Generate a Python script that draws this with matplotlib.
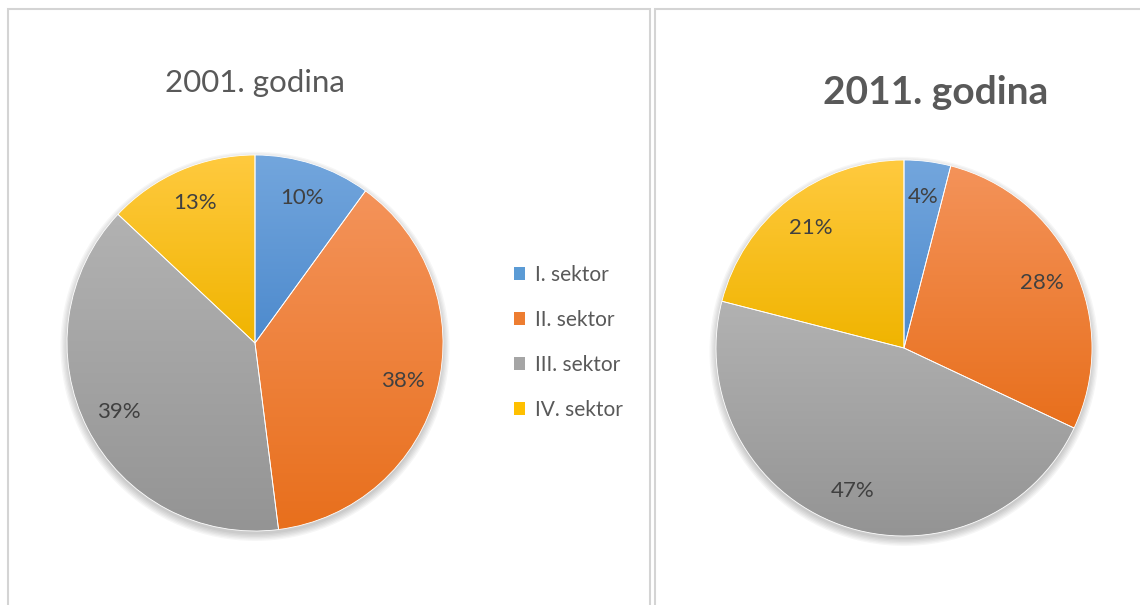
import matplotlib.pyplot as plt
import numpy as np
from matplotlib.colors import LinearSegmentedColormap
from matplotlib.patches import Rectangle, Circle, Patch

sectors = ["I. sektor", "II. sektor", "III. sektor", "IV. sektor"]
share_2001 = [10, 38, 39, 13]
share_2011 = [4, 28, 47, 21]
titles = ["2001. godina", "2011. godina"]

# (top colour, bottom colour) per sector, Office-like gradient
grad_colors = [("#73a6dd", "#4d8acd"), ("#f4935a", "#e86f1c"),
               ("#b2b2b2", "#949494"), ("#ffca3f", "#f0b400")]
legend_colors = ["#5b9bd5", "#ed7d31", "#a5a5a5", "#ffc000"]

plt.rcParams['font.family'] = ['Lato', 'DejaVu Sans']
TXT = "#404040"
W, H = 1140, 605

fig = plt.figure(figsize=(W / 100, H / 100), dpi=100)
fig.patch.set_facecolor("white")

# panel borders
for x0, x1 in [(8, 650), (655, 1150)]:
    fig.patches.append(Rectangle((x0 / W, -0.05), (x1 - x0) / W, 1.05 - 9 / H,
                                 transform=fig.transFigure, fill=False,
                                 edgecolor="#d4d4d4", linewidth=1.5))


def draw_pie(cx, cy, r, values):
    ax = fig.add_axes([(cx - r) / W, 1 - (cy + r) / H, 2 * r / W, 2 * r / H])
    ax.axis("off")
    # soft shadow
    for k in range(6):
        ax.add_patch(Circle((0, -0.018), 1.0 + 0.007 * k, color="black",
                            alpha=0.035, lw=0, zorder=0, clip_on=False))
    wedges, texts, autotexts = ax.pie(
        values, startangle=90, counterclock=False, radius=1.0,
        autopct="%.0f%%", pctdistance=0.81,
        wedgeprops=dict(linewidth=0.6, edgecolor="white"),
        textprops=dict(color=TXT, fontsize=16))
    for w, (top, bot) in zip(wedges, grad_colors):
        w.set_facecolor("none")
        w.set_zorder(3)
        ext = w.get_path().get_extents()
        cmap = LinearSegmentedColormap.from_list("g", [bot, top])
        grad = np.linspace(0, 1, 256).reshape(-1, 1)
        im = ax.imshow(grad, cmap=cmap, origin="lower", aspect="auto",
                       extent=[ext.x0, ext.x1, ext.y0, ext.y1], zorder=1)
        im.set_clip_path(w)
    for t in autotexts:
        t.set_zorder(5)
    ax.set_xlim(-1, 1)
    ax.set_ylim(-1, 1)
    ax.set_aspect("equal")
    return ax


draw_pie(255, 343, 188, share_2001)
draw_pie(904, 348, 188, share_2011)

fig.text(255 / W, 1 - 83 / H, titles[0], ha="center", va="center",
         fontsize=22.5, color="#595959")
fig.text(936 / W, 1 - 92 / H, titles[1], ha="center", va="center",
         fontsize=28, color="#595959", fontweight="bold")

handles = [Patch(facecolor=c, edgecolor="none") for c in legend_colors]
fig.legend(handles, sectors, loc="upper left",
           bbox_to_anchor=(514 / W, 1 - 265 / H), frameon=False,
           fontsize=15, labelcolor="#595959", handlelength=0.55,
           handleheight=0.55, handletextpad=0.45, labelspacing=1.2,
           borderpad=0, borderaxespad=0)

fig.savefig("out.png", dpi=100)
